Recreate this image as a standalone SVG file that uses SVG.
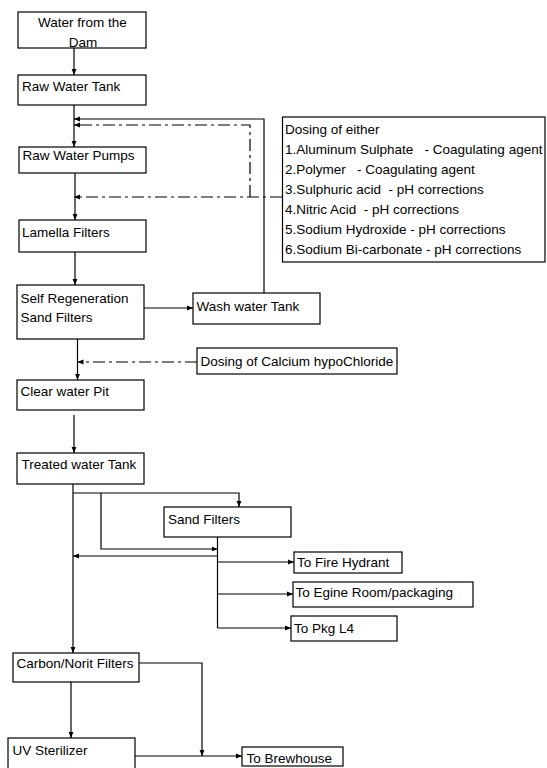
<svg xmlns="http://www.w3.org/2000/svg" width="547" height="768" viewBox="0 0 547 768">
<style>
.box{fill:#fff;stroke:#000;stroke-width:1.2}
.t{font-family:"Liberation Sans",Arial,sans-serif;font-size:13.5px;fill:#000;white-space:pre}
.ln{fill:none;stroke:#000;stroke-width:1.2}
.dd{fill:none;stroke:#000;stroke-width:1.2;stroke-dasharray:12,4,3,4}
</style>
<defs>
<marker id="ah" viewBox="0 0 10 10" refX="10" refY="5" markerWidth="6" markerHeight="6" markerUnits="userSpaceOnUse" orient="auto"><path d="M0,1 L10,5 L0,9 z" fill="#000"/></marker>
</defs>
<rect width="547" height="768" fill="#fff"/>
<g id="connectors">
<path class="ln" d="M74,48 V75" marker-end="url(#ah)"/>
<path class="ln" d="M74,105 V147" marker-end="url(#ah)"/>
<path class="ln" d="M264,293 V119 H74" marker-end="url(#ah)"/>
<path class="dd" d="M250,197 V125 H74" marker-end="url(#ah)"/>
<path class="dd" d="M282,197 H74" marker-end="url(#ah)"/>
<path class="ln" d="M75,173 V220" marker-end="url(#ah)"/>
<path class="ln" d="M75,252 V285" marker-end="url(#ah)"/>
<path class="ln" d="M144,308 H193" marker-end="url(#ah)"/>
<path class="ln" d="M77.5,339 V380" marker-end="url(#ah)"/>
<path class="dd" d="M197,362 H77.5" marker-end="url(#ah)"/>
<path class="ln" d="M74,415 V453" marker-end="url(#ah)"/>
<path class="ln" d="M73,484 V653" marker-end="url(#ah)"/>
<path class="ln" d="M73,493 H239 V507" marker-end="url(#ah)"/>
<path class="ln" d="M101,493 V549 H217.5" marker-end="url(#ah)"/>
<path class="ln" d="M217.5,556 H73" marker-end="url(#ah)"/>
<path class="ln" d="M217.5,537 V628"/>
<path class="ln" d="M217.5,562 H294" marker-end="url(#ah)"/>
<path class="ln" d="M217.5,594 H293" marker-end="url(#ah)"/>
<path class="ln" d="M217.5,628 H291" marker-end="url(#ah)"/>
<path class="ln" d="M71,682 V738" marker-end="url(#ah)"/>
<path class="ln" d="M139,663 H202 V756" marker-end="url(#ah)"/>
<path class="ln" d="M135,756 H242" marker-end="url(#ah)"/>
</g>
<g id="dam"><rect class="box" x="18" y="12" width="128" height="36"/><text class="t" x="82.5" y="27" text-anchor="middle">Water from the</text><text class="t" x="83" y="47" text-anchor="middle">Dam</text></g>
<g id="rawtank"><rect class="box" x="18" y="75" width="128" height="30"/><text class="t" x="22" y="91">Raw Water Tank</text></g>
<g id="pumps"><rect class="box" x="19" y="147" width="127" height="26"/><text class="t" x="22.5" y="160">Raw Water Pumps</text></g>
<g id="dosing"><rect class="box" x="282.5" y="117" width="262.5" height="145"/>
<text class="t" x="285" y="134">Dosing of either</text>
<text class="t" x="285" y="154">1.Aluminum Sulphate   - Coagulating agent</text>
<text class="t" x="285" y="174">2.Polymer   - Coagulating agent</text>
<text class="t" x="285" y="194">3.Sulphuric acid  - pH corrections</text>
<text class="t" x="285" y="214">4.Nitric Acid  - pH corrections</text>
<text class="t" x="285" y="234">5.Sodium Hydroxide - pH corrections</text>
<text class="t" x="285" y="254">6.Sodium Bi-carbonate - pH corrections</text></g>
<g id="lamella"><rect class="box" x="19" y="220" width="127" height="32"/><text class="t" x="22" y="237">Lamella Filters</text></g>
<g id="selfregen"><rect class="box" x="17" y="285" width="127" height="54"/><text class="t" x="20.5" y="302.5">Self Regeneration</text><text class="t" x="20.5" y="321.5">Sand Filters</text></g>
<g id="washtank"><rect class="box" x="193" y="293" width="127" height="31"/><text class="t" x="196.5" y="310.5">Wash water Tank</text></g>
<g id="calcium"><rect class="box" x="197" y="348" width="200" height="26"/><text class="t" x="200.5" y="366">Dosing of Calcium hypoChloride</text></g>
<g id="clearpit"><rect class="box" x="17" y="380" width="127" height="30"/><text class="t" x="20.5" y="396">Clear water Pit</text></g>
<g id="treated"><rect class="box" x="17" y="453" width="127" height="31"/><text class="t" x="21.5" y="469">Treated water Tank</text></g>
<g id="sandfilters"><rect class="box" x="164" y="507" width="127" height="30"/><text class="t" x="168" y="524">Sand Filters</text></g>
<g id="firehydrant"><rect class="box" x="294" y="552" width="108" height="21"/><text class="t" x="297" y="567">To Fire Hydrant</text></g>
<g id="engine"><rect class="box" x="293" y="582" width="180" height="25"/><text class="t" x="295.5" y="597">To Egine Room/packaging</text></g>
<g id="pkgl4"><rect class="box" x="291" y="616" width="106" height="25"/><text class="t" x="294" y="633">To Pkg L4</text></g>
<g id="carbon"><rect class="box" x="13" y="653" width="126" height="29"/><text class="t" x="16.5" y="667.5">Carbon/Norit Filters</text></g>
<g id="uv"><rect class="box" x="8" y="738" width="127" height="34"/><text class="t" x="12.5" y="755">UV Sterilizer</text></g>
<g id="brewhouse"><rect class="box" x="242" y="747" width="101" height="19"/><text class="t" x="246.5" y="762.5">To Brewhouse</text></g>
</svg>
